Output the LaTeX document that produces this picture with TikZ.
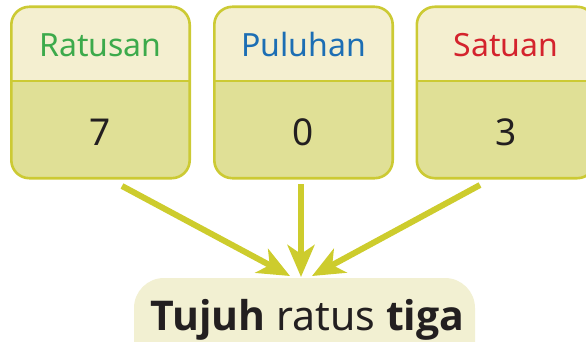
\documentclass[tikz,border=0pt]{standalone}
\usepackage{fontspec}
\setmainfont{Noto Sans}
\newfontfamily\heavysans{Open Sans}
\usetikzlibrary{arrows.meta}
\definecolor{edgeol}{RGB}{204,202,52}
\definecolor{arrowol}{RGB}{205,204,45}
\definecolor{headfill}{RGB}{244,239,208}
\definecolor{bodyfill}{RGB}{224,224,150}
\definecolor{pillfill}{RGB}{242,240,210}
\definecolor{txtgreen}{RGB}{60,170,75}
\definecolor{txtblue}{RGB}{28,110,180}
\definecolor{txtred}{RGB}{212,35,45}
\definecolor{txtdark}{RGB}{35,31,32}
\newcommand{\strongword}[1]{{\heavysans\bfseries #1}}
\tikzset{
  placebox/.style={rectangle, rounded corners=18pt, minimum width=178pt, minimum height=171pt, inner sep=0pt},
  placelabel/.style={anchor=base, inner sep=0pt, font=\fontsize{32}{34}\selectfont},
  digit/.style={anchor=base, inner sep=0pt, text=txtdark, font=\fontsize{37}{40}\selectfont},
  flow/.style={line width=6pt, draw=arrowol, -{Stealth[length=32pt,width=27pt,inset=9pt]}},
  pill/.style={rectangle, rounded corners=30pt, fill=pillfill, minimum width=341pt, minimum height=100pt, inner sep=0pt},
}
\newcommand{\placecolumn}[5]{%
  % #1 name, #2 centre x, #3 label colour, #4 label, #5 digit
  \node[placebox] (#1) at (#2,92.5) {};
  \begin{scope}
    \clip[rounded corners=18pt] (#1.south west) rectangle (#1.north east);
    \fill[bodyfill] (#1.south west) rectangle (#1.north east);
    \fill[headfill] (#1.north west) rectangle (#1.east |- 0,81);
  \end{scope}
  \draw[edgeol, line width=2.6pt] (#1.west |- 0,81) -- (#1.east |- 0,81);
  \draw[edgeol, line width=2.6pt, rounded corners=18pt] (#1.south west) rectangle (#1.north east);
  \node[placelabel, text=#3] (#1-label) at (#2,57) {#4};
  \node[digit] (#1-digit) at (#2,146) {#5};
}
\begin{document}
\begin{tikzpicture}[x=1pt,y=-1pt]
  \useasboundingbox (0,0) rectangle (586,342);
  \placecolumn{ratus}{100.5}{txtgreen}{Ratusan}{7}
  \placecolumn{puluh}{303.5}{txtblue}{Puluhan}{0}
  \placecolumn{satu}{506}{txtred}{Satuan}{3}

  % result: words read from the three digits
  \node[pill] (hasil) at (304.5,328) {};
  \node[anchor=base, inner sep=0pt, text=txtdark, font=\fontsize{41}{44}\selectfont] (kata) at (307.5,330)
    {\strongword{Tujuh} ratus \strongword{tiga}};

  % arrows gathering the digits into the words
  \coordinate (s1) at (122,186);
  \coordinate (s2) at (301,184);
  \coordinate (s3) at (480,185);
  \coordinate (t1) at (290,276);
  \coordinate (t2) at (301,277);
  \coordinate (t3) at (312,276);
  \draw[flow] (s1) -- (t1);
  \draw[flow] (s2) -- (t2);
  \draw[flow] (s3) -- (t3);
\end{tikzpicture}
\end{document}
